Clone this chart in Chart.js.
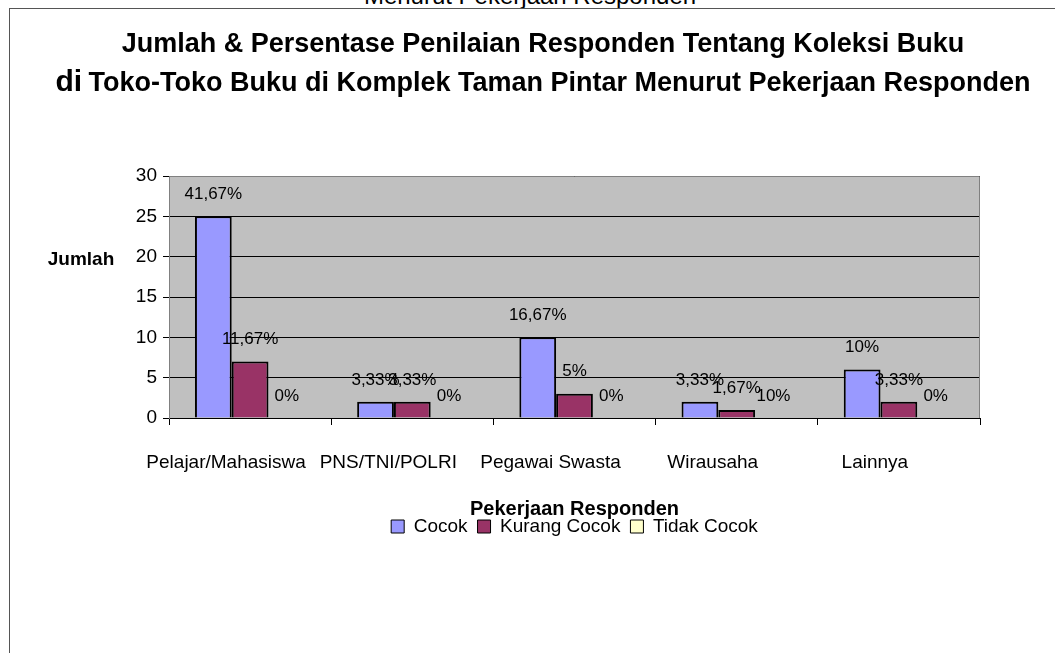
<!DOCTYPE html>
<html>
<head>
<meta charset="utf-8">
<script src="https://cdn.jsdelivr.net/npm/chart.js@4/dist/chart.umd.min.js"></script>
<style>
html, body { margin:0; padding:0; background:#fff; overflow:hidden; }
#wrap { position:relative; width:1055px; height:653px; overflow:hidden; }
#cut { position:absolute; left:0; width:1060px; top:-16px; text-align:center; font-family:"Liberation Sans", Arial, sans-serif; font-size:24px; line-height:24px; color:#000; }
#frame { position:absolute; left:9px; top:8px; width:1100px; height:700px; border-left:1px solid #555; border-top:1px solid #555; }
#myChart { position:absolute; left:0; top:0; }
</style>
</head>
<body>
<div id="wrap">
  <div id="cut">Menurut Pekerjaan Responden</div>
  <div id="frame"></div>
  <canvas id="myChart" width="1055" height="653"></canvas>
</div>
<script>
// data
const categories = ['Pelajar/Mahasiswa', 'PNS/TNI/POLRI', 'Pegawai Swasta', 'Wirausaha', 'Lainnya'];
const cocok = [25, 2, 10, 2, 6];
const kurangCocok = [7, 2, 3, 1, 2];
const tidakCocok = [0, 0, 0, 0, 0];
const cocokPct = ['41,67%', '3,33%', '16,67%', '3,33%', '10%'];
const kurangPct = ['11,67%', '3,33%', '5%', '1,67%', '3,33%'];
const tidakPct = ['0%', '0%', '0%', '10%', '0%'];
const yTicks = [0, 5, 10, 15, 20, 25, 30];

const FONT = '"Liberation Sans", Arial, sans-serif';
const pctLabels = [cocokPct, kurangPct, tidakPct];

//Gray plot area with a thin gray frame on top and right
const plotArea = {
    id: 'plotArea',
    beforeDraw(chart) {
        const a = chart.chartArea;
        const ctx = chart.ctx;
        ctx.save();
        ctx.fillStyle = '#C0C0C0';
        ctx.fillRect(a.left, a.top, a.right - a.left, a.bottom - a.top);
        ctx.restore();
    },
    afterDraw(chart) {
        const a = chart.chartArea;
        const ctx = chart.ctx;
        ctx.save();
        ctx.strokeStyle = '#808080';
        ctx.lineWidth = 1;
        ctx.beginPath();
        ctx.moveTo(a.left, a.top + 0.5);
        ctx.lineTo(a.right - 0.5, a.top + 0.5);
        ctx.lineTo(a.right - 0.5, a.bottom);
        ctx.stroke();
        ctx.restore();
    }
};

//Percent labels above every bar
const barLabels = {
    id: 'barLabels',
    afterDatasetsDraw(chart) {
        const ctx = chart.ctx;
        ctx.save();
        ctx.font = '17px ' + FONT;
        ctx.fillStyle = '#000';
        ctx.textAlign = 'center';
        ctx.textBaseline = 'middle';
        chart.data.datasets.forEach((ds, i) => {
            chart.getDatasetMeta(i).data.forEach((bar, j) => {
                ctx.fillText(pctLabels[i][j], bar.x, bar.y - 22);
            });
        });
        ctx.restore();
    }
};

//Chart title (two lines, "di" a bit bigger) and the horizontal y axis title
const titles = {
    id: 'titles',
    afterDraw(chart) {
        const ctx = chart.ctx;
        ctx.save();
        ctx.fillStyle = '#000';
        ctx.textBaseline = 'middle';
        ctx.textAlign = 'center';
        ctx.font = 'bold 27px ' + FONT;
        ctx.fillText('Jumlah & Persentase Penilaian Responden Tentang Koleksi Buku', 543, 45);

        const first = 'di ';
        const rest = 'Toko-Toko Buku di Komplek Taman Pintar Menurut Pekerjaan Responden';
        ctx.font = 'bold 30px ' + FONT;
        const w1 = ctx.measureText(first).width;
        ctx.font = 'bold 27px ' + FONT;
        const w2 = ctx.measureText(rest).width;
        let x = 544 - (w1 + w2) / 2;
        ctx.textAlign = 'left';
        ctx.font = 'bold 30px ' + FONT;
        ctx.fillText(first, x, 83);
        ctx.font = 'bold 27px ' + FONT;
        ctx.fillText(rest, x + w1 - 2, 84);

        ctx.textAlign = 'center';
        ctx.font = 'bold 19px ' + FONT;
        ctx.fillText('Jumlah', 81, 260);
        ctx.restore();
    }
};

const data = {
    labels: categories,
    datasets: [
        { label: 'Cocok', data: cocok, backgroundColor: '#9999FF' },
        { label: 'Kurang Cocok', data: kurangCocok, backgroundColor: '#993366' },
        { label: 'Tidak Cocok', data: tidakCocok, backgroundColor: '#FFFFCC' }
    ]
};

const config = {
    type: 'bar',
    data: data,
    options: {
        responsive: false,
        animation: false,
        layout: { padding: { left: 109, right: 75, top: 176, bottom: 107 } },
        datasets: {
            bar: {
                borderColor: '#000',
                borderWidth: 2,
                borderSkipped: 'bottom',
                barPercentage: 1,
                categoryPercentage: 0.68
            }
        },
        scales: {
            x: {
                afterFit(scale) { scale.height = 89; },
                grid: { drawOnChartArea: false, drawTicks: true, tickLength: 7, color: '#000', offset: true },
                border: { color: '#000', width: 1 },
                ticks: { color: '#000', padding: 26, labelOffset: -24, font: { family: FONT, size: 19 }, maxRotation: 0, autoSkip: false },
                title: {
                    display: true,
                    text: 'Pekerjaan Responden',
                    color: '#000',
                    font: { family: FONT, size: 20, weight: 'bold' },
                    padding: { top: 0, bottom: -14 }
                }
            },
            y: {
                min: yTicks[0],
                max: yTicks[yTicks.length - 1],
                afterFit(scale) { scale.width = 60; },
                grid: { color: '#000', lineWidth: 1, drawTicks: true, tickLength: 6 },
                border: { color: '#808080', width: 1 },
                ticks: { stepSize: yTicks[1] - yTicks[0], color: '#000', padding: 6, font: { family: FONT, size: 19 } }
            }
        },
        plugins: {
            title: { display: false },
            tooltip: { enabled: false },
            legend: {
                position: 'bottom',
                fullSize: false,
                labels: {
                    color: '#000',
                    boxWidth: 13,
                    boxHeight: 13,
                    padding: 10,
                    font: { family: FONT, size: 19 },
                    generateLabels(chart) {
                        return Chart.defaults.plugins.legend.labels.generateLabels(chart).map(l => {
                            l.lineWidth = 1;
                            return l;
                        });
                    }
                }
            }
        }
    },
    plugins: [plotArea, barLabels, titles]
};

let myChart = new Chart(document.getElementById('myChart'), config);
</script>
</body>
</html>
